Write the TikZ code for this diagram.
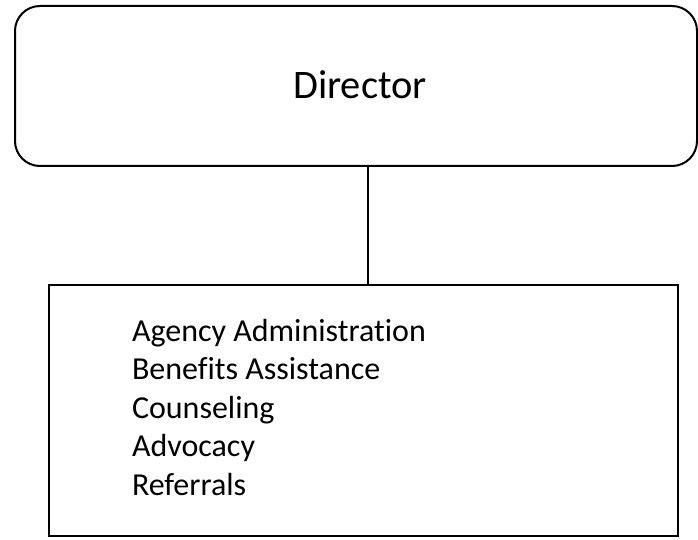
\documentclass[tikz,border=0pt]{standalone}
\usepackage{fontspec}
\setmainfont{Carlito}[Ligatures=NoCommon]
\usetikzlibrary{positioning}

\begin{document}
\begin{tikzpicture}[x=1pt,y=-1pt,line width=2pt,
  every node/.style={inner sep=0pt}]
  \tikzstyle{headbox}=[draw,rounded corners=25pt,minimum width=682pt,minimum height=160pt]
  \tikzstyle{unitbox}=[draw,minimum width=629pt,minimum height=251pt]
  \tikzstyle{tasklist}=[align=left,font=\fontsize{32}{38.5}\selectfont]

  \useasboundingbox (0,0) rectangle (698,540);

  \node[headbox] (director) at (356,86) {};
  \node[font=\fontsize{40.5}{48}\selectfont,anchor=base] (dirlabel) at (360,99) {Director};
  \node[unitbox] (unit) at (363.5,410.5) {};
  \node[tasklist,anchor=base west] (tasks) at (131,495)
    {Agency Administration\\Benefits Assistance\\Counseling\\Advocacy\\Referrals};

  \coordinate (top) at (368,86);
  \path (director.south -| top) coordinate (linetop);
  \draw (linetop) -- (unit.north -| top);
\end{tikzpicture}
\end{document}
